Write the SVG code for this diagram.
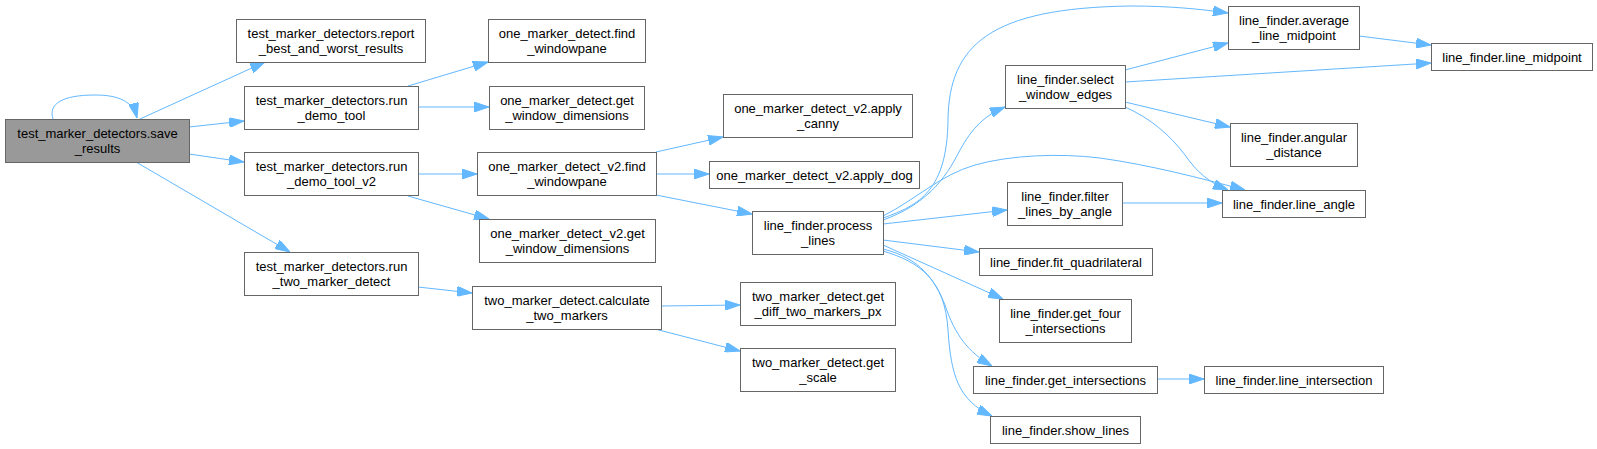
<svg xmlns="http://www.w3.org/2000/svg" width="1597" height="449" viewBox="0 0 1597 449">
<style>
.n rect{fill:#ffffff;stroke:#666666;stroke-width:1}
.n.hl rect{fill:#999999}
.n text{font-family:"Liberation Sans",Arial,sans-serif;font-size:13px;fill:#000000;text-anchor:middle}
.e path{fill:none;stroke:#63b8ff;stroke-width:1;marker-end:url(#ah)}
</style>
<defs>
<marker id="ah" markerUnits="userSpaceOnUse" markerWidth="15" markerHeight="10" refX="15" refY="5" orient="auto">
<path d="M0,0 L15,5 L0,10 z" fill="#63b8ff" stroke="#63b8ff" stroke-width="1"/>
</marker>
</defs>
<rect width="1597" height="449" fill="#ffffff"/>
<g id="edges" class="e">
<path d="M53,119 C48,104 62,95 95,95 C118,95 133,101 137,118"/>
<path d="M140,119 L265,62"/>
<path d="M189,127 L244,121"/>
<path d="M189,154 L244,162"/>
<path d="M136,162 L290,252"/>
<path d="M408,86 L488,62"/>
<path d="M418,107 L489,107"/>
<path d="M418,174 L477,174"/>
<path d="M408,196 L489,219"/>
<path d="M418,287 L472,293"/>
<path d="M656,152 L723,137"/>
<path d="M656,174 L709,174"/>
<path d="M656,195 L752,214"/>
<path d="M661,306 L740,305"/>
<path d="M655,329 L740,351"/>
<path d="M883,218 C920,205 947,190 948,120 C949,45 990,8 1130,6 C1170,6 1200,9 1228,13"/>
<path d="M883,220 C925,205 945,180 960,150 C972,128 985,115 1005,107"/>
<path d="M883,216 C915,200 940,175 975,165 C1010,155 1060,153 1100,158 C1150,165 1200,178 1245,190"/>
<path d="M883,224 L1007,210"/>
<path d="M883,240 L979,252"/>
<path d="M883,245 L1003,299"/>
<path d="M883,249 C920,258 935,280 945,305 C955,335 968,352 992,366"/>
<path d="M883,251 C920,262 945,280 948,330 C951,375 958,400 992,416"/>
<path d="M1125,70 L1228,43"/>
<path d="M1125,82 L1431,63"/>
<path d="M1125,102 L1230,127"/>
<path d="M1125,107 C1150,118 1170,135 1185,155 C1197,172 1208,182 1228,190"/>
<path d="M1359,36 L1431,45"/>
<path d="M1122,203 L1222,203"/>
<path d="M1157,379 L1204,379"/>
</g>
<g id="save_results" class="n hl"><rect x="5.5" y="119.5" width="184" height="43"/><text x="97.5" y="137.5">test_marker_detectors.save</text><text x="97.5" y="153">_results</text></g>
<g id="report_best" class="n"><rect x="236.5" y="19.5" width="189" height="43"/><text x="331" y="37.5">test_marker_detectors.report</text><text x="331" y="53">_best_and_worst_results</text></g>
<g id="run_demo_tool" class="n"><rect x="244.5" y="86.5" width="174" height="43"/><text x="331.5" y="104.5">test_marker_detectors.run</text><text x="331.5" y="120">_demo_tool</text></g>
<g id="run_demo_tool_v2" class="n"><rect x="244.5" y="152.5" width="174" height="43"/><text x="331.5" y="170.5">test_marker_detectors.run</text><text x="331.5" y="186">_demo_tool_v2</text></g>
<g id="run_two_marker_detect" class="n"><rect x="244.5" y="252.5" width="174" height="43"/><text x="331.5" y="270.5">test_marker_detectors.run</text><text x="331.5" y="286">_two_marker_detect</text></g>
<g id="omd_find" class="n"><rect x="488.5" y="19.5" width="157" height="43"/><text x="567" y="37.5">one_marker_detect.find</text><text x="567" y="53">_windowpane</text></g>
<g id="omd_get" class="n"><rect x="489.5" y="86.5" width="155" height="43"/><text x="567" y="104.5">one_marker_detect.get</text><text x="567" y="120">_window_dimensions</text></g>
<g id="omd2_find" class="n"><rect x="477.5" y="152.5" width="179" height="43"/><text x="567" y="170.5">one_marker_detect_v2.find</text><text x="567" y="186">_windowpane</text></g>
<g id="omd2_get" class="n"><rect x="479.5" y="219.5" width="176" height="43"/><text x="567.5" y="237.5">one_marker_detect_v2.get</text><text x="567.5" y="253">_window_dimensions</text></g>
<g id="tmd_calc" class="n"><rect x="472.5" y="286.5" width="189" height="43"/><text x="567" y="304.5">two_marker_detect.calculate</text><text x="567" y="320">_two_markers</text></g>
<g id="apply_canny" class="n"><rect x="723.5" y="94.5" width="189" height="43"/><text x="818" y="112.5">one_marker_detect_v2.apply</text><text x="818" y="128">_canny</text></g>
<g id="apply_dog" class="n"><rect x="709.5" y="161.5" width="210" height="27"/><text x="814.5" y="179.5">one_marker_detect_v2.apply_dog</text></g>
<g id="process_lines" class="n"><rect x="752.5" y="211.5" width="131" height="43"/><text x="818" y="229.5">line_finder.process</text><text x="818" y="245">_lines</text></g>
<g id="get_diff" class="n"><rect x="740.5" y="282.5" width="155" height="43"/><text x="818" y="300.5">two_marker_detect.get</text><text x="818" y="316">_diff_two_markers_px</text></g>
<g id="get_scale" class="n"><rect x="740.5" y="348.5" width="155" height="43"/><text x="818" y="366.5">two_marker_detect.get</text><text x="818" y="382">_scale</text></g>
<g id="select_window_edges" class="n"><rect x="1005.5" y="65.5" width="120" height="43"/><text x="1065.5" y="83.5">line_finder.select</text><text x="1065.5" y="99">_window_edges</text></g>
<g id="filter_lines_by_angle" class="n"><rect x="1007.5" y="182.5" width="115" height="43"/><text x="1065" y="200.5">line_finder.filter</text><text x="1065" y="216">_lines_by_angle</text></g>
<g id="fit_quadrilateral" class="n"><rect x="979.5" y="248.5" width="173" height="27"/><text x="1066" y="266.5">line_finder.fit_quadrilateral</text></g>
<g id="get_four_intersections" class="n"><rect x="999.5" y="299.5" width="132" height="43"/><text x="1065.5" y="317.5">line_finder.get_four</text><text x="1065.5" y="333">_intersections</text></g>
<g id="get_intersections" class="n"><rect x="973.5" y="366.5" width="184" height="27"/><text x="1065.5" y="384.5">line_finder.get_intersections</text></g>
<g id="show_lines" class="n"><rect x="990.5" y="416.5" width="150" height="27"/><text x="1065.5" y="434.5">line_finder.show_lines</text></g>
<g id="average_line_midpoint" class="n"><rect x="1228.5" y="6.5" width="131" height="43"/><text x="1294" y="24.5">line_finder.average</text><text x="1294" y="40">_line_midpoint</text></g>
<g id="angular_distance" class="n"><rect x="1230.5" y="123.5" width="127" height="43"/><text x="1294" y="141.5">line_finder.angular</text><text x="1294" y="157">_distance</text></g>
<g id="line_angle" class="n"><rect x="1222.5" y="190.5" width="143" height="27"/><text x="1294" y="208.5">line_finder.line_angle</text></g>
<g id="line_intersection" class="n"><rect x="1204.5" y="366.5" width="179" height="27"/><text x="1294" y="384.5">line_finder.line_intersection</text></g>
<g id="line_midpoint" class="n"><rect x="1431.5" y="43.5" width="161" height="27"/><text x="1512" y="61.5">line_finder.line_midpoint</text></g>
</svg>
